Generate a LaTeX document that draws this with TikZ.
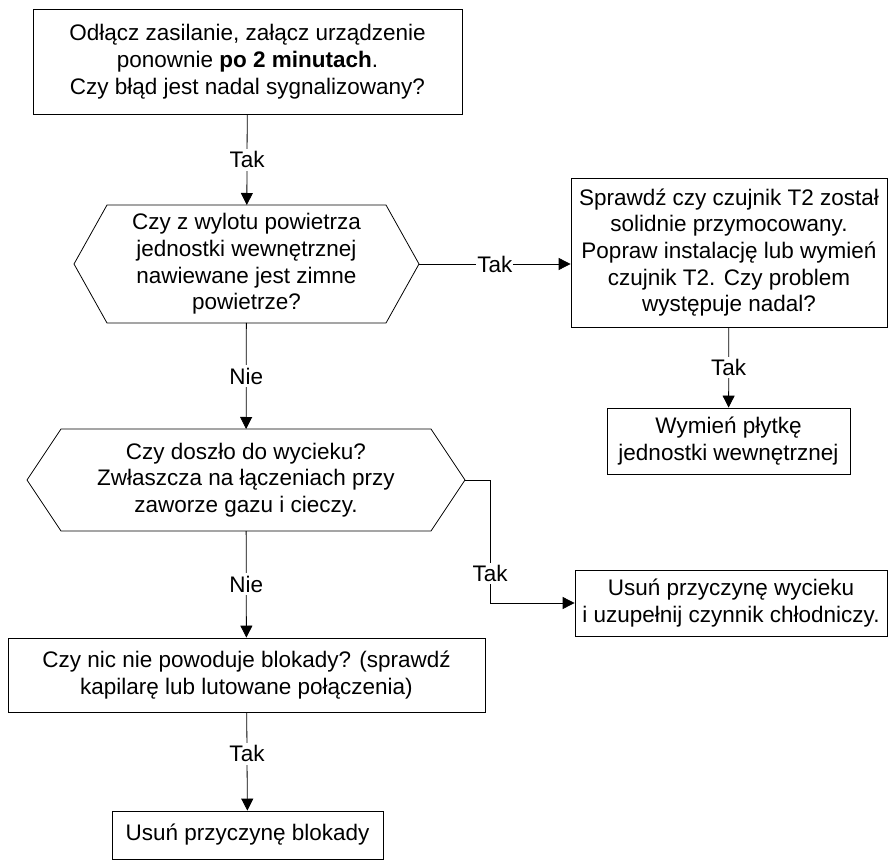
\documentclass[tikz,border=0pt]{standalone}
\usepackage{fontspec}
\setmainfont{Liberation Sans}
\usetikzlibrary{arrows.meta}

\begin{document}
\begin{tikzpicture}[
    font=\fontsize{12.8}{15.2}\selectfont,
    box/.style={draw, rectangle, align=center, line width=0.45pt, inner sep=2pt},
    hexnode/.style={rectangle, align=center, inner sep=0pt, outer sep=0pt},
    flow/.style={-{Triangle[length=2.4mm, width=2.4mm]}, line width=0.45pt},
    lbl/.style={fill=white, inner sep=1.5pt}
]
    \useasboundingbox (0, 0) rectangle (17.76, -17.3);

    % Draw the first check
    \node[box, minimum width=8.58cm, minimum height=2.1cm] (restart) at (4.95, -1.23)
        {Odłącz zasilanie, załącz urządzenie\\ponownie \textbf{po 2 minutach}.\\Czy błąd jest nadal sygnalizowany?};

    % Draw the decisions (hexagons drawn round the text nodes)
    \node[hexnode, minimum width=6.9cm, minimum height=2.36cm] (coldair) at (4.93, -5.28)
        {Czy z wylotu powietrza\\jednostki wewnętrznej\\nawiewane jest zimne\\powietrze?};
    \draw[line width=0.45pt] (coldair.west) -- ([xshift=0.66cm]coldair.north west) -- ([xshift=-0.66cm]coldair.north east)
        -- (coldair.east) -- ([xshift=-0.66cm]coldair.south east) -- ([xshift=0.66cm]coldair.south west) -- cycle;

    \node[hexnode, minimum width=8.76cm, minimum height=2.04cm] (leak) at (4.92, -9.6)
        {Czy doszło do wycieku?\\Zwłaszcza na łączeniach przy\\zaworze gazu i cieczy.};
    \draw[line width=0.45pt] (leak.west) -- ([xshift=0.68cm]leak.north west) -- ([xshift=-0.68cm]leak.north east)
        -- (leak.east) -- ([xshift=-0.68cm]leak.south east) -- ([xshift=0.68cm]leak.south west) -- cycle;

    % Draw the sensor branch
    \node[box, minimum width=6.32cm, minimum height=2.98cm] (sensor) at (14.58, -5.05)
        {Sprawdź czy czujnik T2 został\\solidnie przymocowany.\\Popraw instalację lub wymień\\czujnik T2. Czy problem\\występuje nadal?};
    \node[box, minimum width=4.86cm, minimum height=1.32cm] (board) at (14.57, -8.82)
        {Wymień płytkę\\jednostki wewnętrznej};

    % Draw the leak and blockage steps
    \node[box, minimum width=6.24cm, minimum height=1.32cm] (refill) at (14.62, -12.06)
        {Usuń przyczynę wycieku\\i uzupełnij czynnik chłodniczy.};
    \node[box, minimum width=9.54cm, minimum height=1.48cm] (block) at (4.93, -13.5)
        {Czy nic nie powoduje blokady? (sprawdź\\kapilarę lub lutowane połączenia)};
    \node[box, minimum width=5.42cm, minimum height=0.96cm] (unblock) at (4.95, -16.7)
        {Usuń przyczynę blokady};

    % Draw connections
    \draw[flow] (restart) -- node[midway, lbl] {Tak} (coldair);
    \draw[flow] (coldair.east) -- node[midway, lbl, inner sep=0.5pt] {Tak} (coldair.east -| sensor.west);
    \draw[flow] (sensor) -- node[midway, lbl] {Tak} (board);
    \draw[flow] (coldair) -- node[midway, lbl] {Nie} (leak);
    \draw[flow] (leak.east) -- ++(0.5, 0) |- node[pos=0.38, lbl] {Tak} (refill.west);
    \draw[flow] (leak) -- node[midway, lbl] {Nie} (block);
    \draw[flow] (block) -- node[pos=0.42, lbl] {Tak} (unblock);

\end{tikzpicture}
\end{document}
